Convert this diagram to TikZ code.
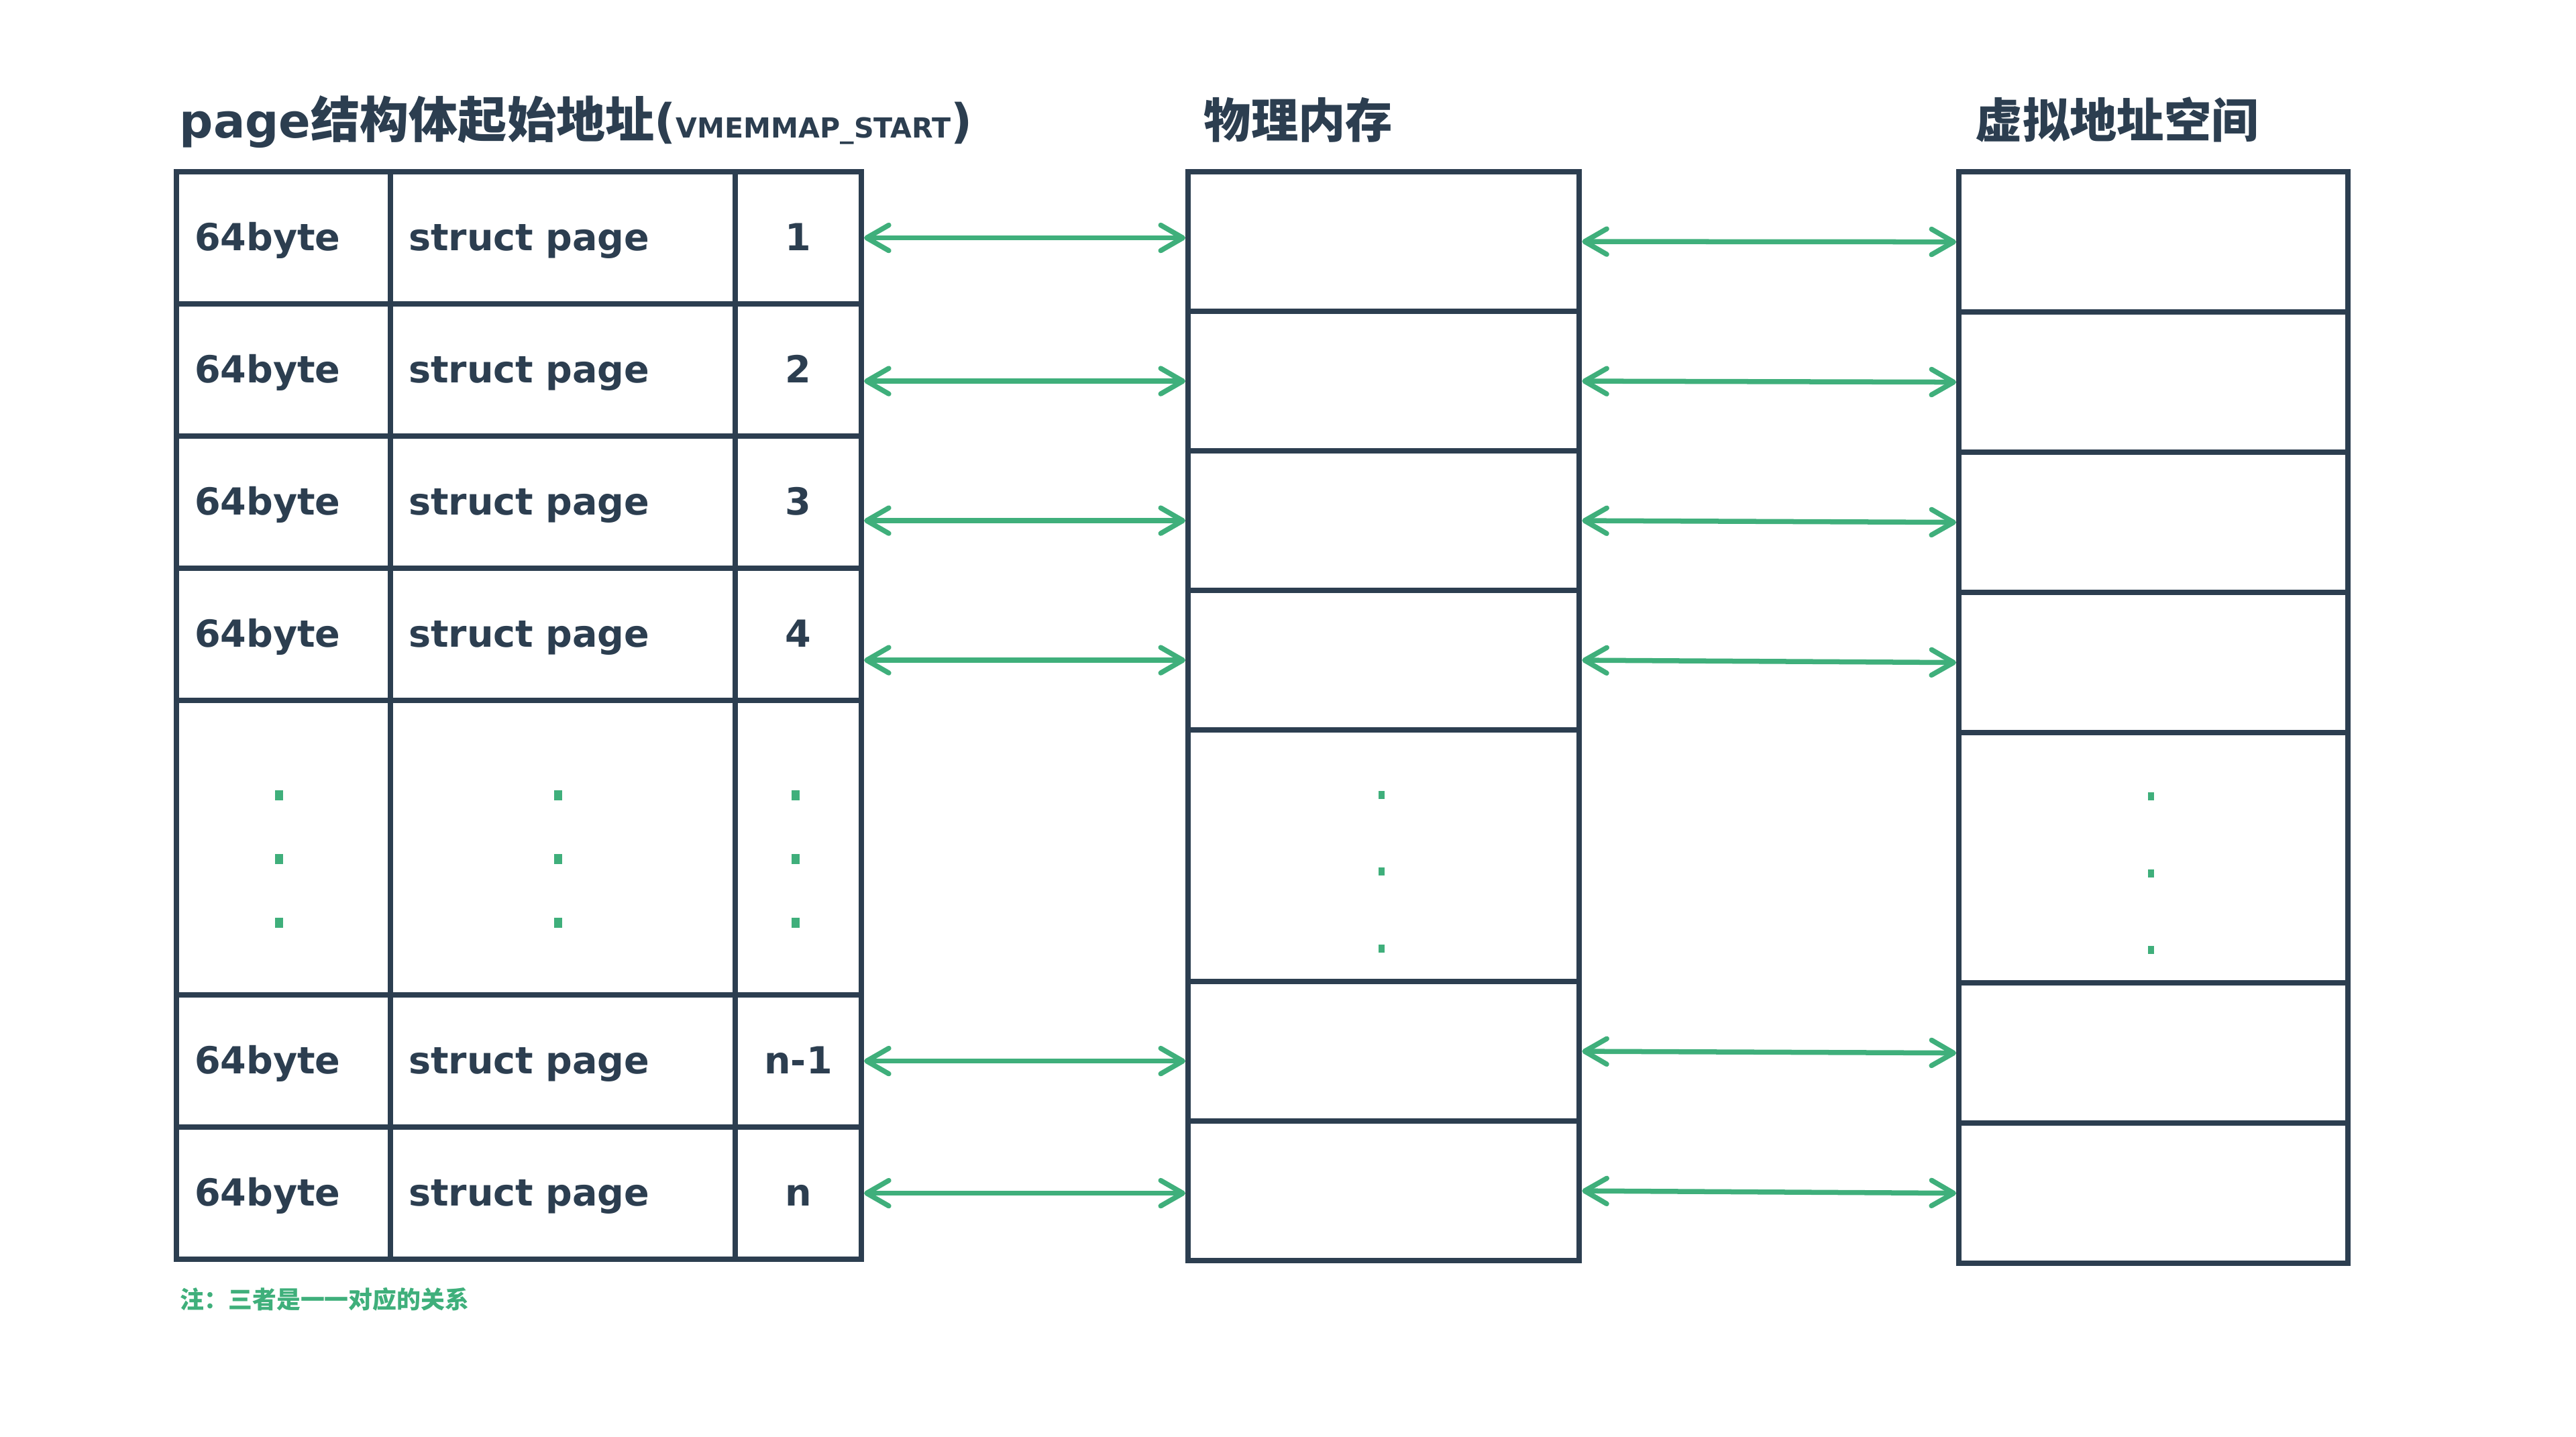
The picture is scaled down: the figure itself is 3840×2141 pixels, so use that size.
\documentclass[tikz,border=0pt]{standalone}
\usepackage{fontspec}
\setmainfont{DejaVu Sans}
\newfontfamily\cjk{Noto Sans CJK SC}
\usetikzlibrary{arrows.meta}
\definecolor{ink}{HTML}{2C3E50}
\definecolor{mint}{HTML}{3FAF7B}

\begin{document}
\begin{tikzpicture}[x=0.01cm, y=-0.01cm, >={Straight Barb[length=3.3mm,width=3.8mm,round]}]
	\tikzstyle{cell} = [draw=ink, line width=0.08cm, inner sep=0, anchor=north west, text=ink, font=\bfseries\fontsize{15.8}{19}\selectfont, text height=0.46cm, text depth=0.08cm, minimum height=1.97cm]
	\tikzstyle{sizecol} = [cell, text width=2.65cm, inner xsep=0.27cm, align=left]
	\tikzstyle{namecol} = [cell, text width=4.60cm, inner xsep=0.27cm, align=left]
	\tikzstyle{idxcol} = [cell, minimum width=1.88cm, align=center]
	\tikzstyle{phys} = [draw=ink, line width=0.08cm, inner sep=0, anchor=north west, minimum width=5.83cm, minimum height=2.08cm]
	\tikzstyle{virt} = [phys, minimum width=5.80cm, minimum height=2.09cm]
	\tikzstyle{head} = [inner sep=0, anchor=base west, text=ink, font=\bfseries\fontsize{20}{24}\selectfont]
	\tikzstyle{link} = [<->, draw=mint, line width=0.075cm]

	\useasboundingbox (0,0) rectangle (3840,2141);

	% titles
	\node[head] (tab) at (267,205) {page{\cjk\fontsize{20.8}{24}\selectfont 结构体起始地址}({\fontsize{11.7}{14}\selectfont VMEMMAP\_START})};
	\node[head] (mem) at (1794,205) {\cjk 物理内存};
	\node[head] (vas) at (2944,205) {\cjk 虚拟地址空间};

	% page table
	\node[sizecol] (a1) at (259,252) {64byte};
	\node[namecol] (b1) at (578,252) {struct page};
	\node[idxcol] (i1) at (1092,252) {1};
	\node[sizecol] (a2) at (259,449) {64byte};
	\node[namecol] (b2) at (578,449) {struct page};
	\node[idxcol] (i2) at (1092,449) {2};
	\node[sizecol] (a3) at (259,646) {64byte};
	\node[namecol] (b3) at (578,646) {struct page};
	\node[idxcol] (i3) at (1092,646) {3};
	\node[sizecol] (a4) at (259,843) {64byte};
	\node[namecol] (b4) at (578,843) {struct page};
	\node[idxcol] (i4) at (1092,843) {4};
	\node[sizecol, minimum height=4.39cm] (ad) at (259,1040) {};
	\node[namecol, minimum height=4.39cm] (bd) at (578,1040) {};
	\node[idxcol, minimum height=4.39cm] (id) at (1092,1040) {};
	\node[sizecol] (a5) at (259,1479) {64byte};
	\node[namecol] (b5) at (578,1479) {struct page};
	\node[idxcol] (i5) at (1092,1479) {n-1};
	\node[sizecol] (a6) at (259,1676) {64byte};
	\node[namecol] (b6) at (578,1676) {struct page};
	\node[idxcol] (i6) at (1092,1676) {n};

	% physical memory
	\node[phys] (p1) at (1767,252) {};
	\node[phys] (p2) at (1767,460) {};
	\node[phys] (p3) at (1767,668) {};
	\node[phys] (p4) at (1767,876) {};
	\node[phys, minimum height=3.75cm] (pd) at (1767,1084) {};
	\node[phys] (p5) at (1767,1459) {};
	\node[phys] (p6) at (1767,1667) {};

	% virtual address space
	\node[virt] (v1) at (2916,252) {};
	\node[virt] (v2) at (2916,461) {};
	\node[virt] (v3) at (2916,670) {};
	\node[virt] (v4) at (2916,879) {};
	\node[virt, minimum height=3.73cm] (vd) at (2916,1088) {};
	\node[virt] (v5) at (2916,1461) {};
	\node[virt] (v6) at (2916,1670) {};

	% dots
	\foreach \x in {416,832,1186}
		\foreach \y in {1185,1280,1375}
			\fill[mint] (\x-6,\y-7.5) rectangle (\x+6,\y+7.5);
	\foreach \x/\y in {2059/1185,2059/1299,2059/1414,3206/1187,3206/1302,3206/1416}
		\fill[mint] (\x-4.5,\y-6) rectangle (\x+4.5,\y+6);

	\path (i1.east) edge[link] (i1.east -| p1.west)
		(p2.west -| i2.east) edge[link] (p2.west)
		(p3.west -| i3.east) edge[link] (p3.west)
		(p4.west -| i4.east) edge[link] (p4.west)
		(i5.east) edge[link] (i5.east -| p5.west)
		(i6.east) edge[link] (i6.east -| p6.west);
	\path (p1.east) edge[link] (v1.west)
		(p2.east) edge[link] (v2.west)
		(p3.east) edge[link] (v3.west)
		(p4.east) edge[link] (v4.west)
		(p5.east) edge[link] (v5.west)
		(p6.east) edge[link] (v6.west);

	\node[inner sep=0, anchor=west, text=mint, font=\cjk\bfseries\fontsize{10.2}{12}\selectfont] (note) at (268,1937) {注：三者是一一对应的关系};
\end{tikzpicture}
\end{document}
